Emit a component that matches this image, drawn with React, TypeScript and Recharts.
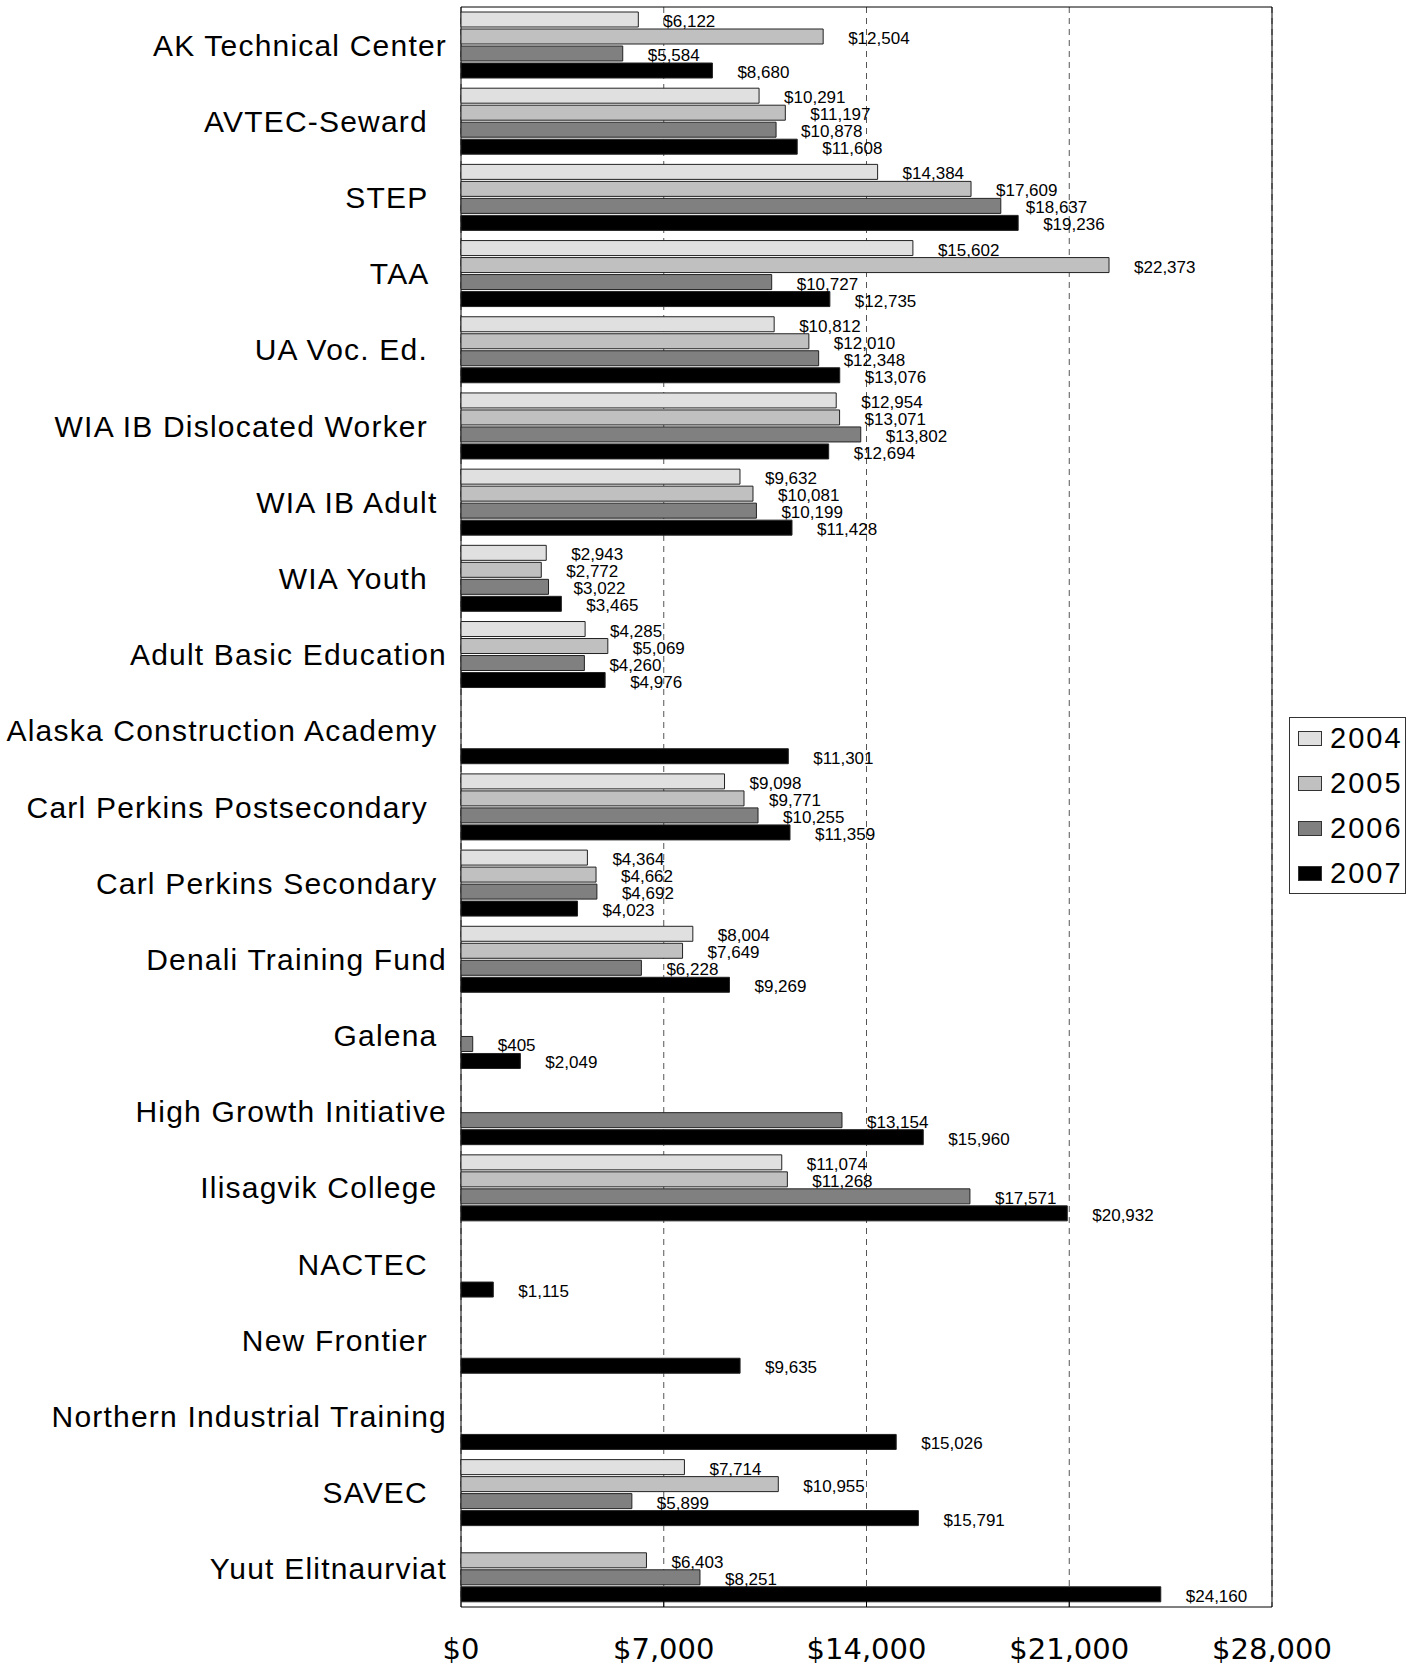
import React from 'react';
import { BarChart, Bar, XAxis, YAxis, CartesianGrid, ReferenceArea, LabelList } from 'recharts';

const categories = [
  'AK Technical Center',
  'AVTEC-Seward  ',
  'STEP  ',
  'TAA  ',
  'UA Voc. Ed.  ',
  'WIA IB Dislocated Worker  ',
  'WIA IB Adult ',
  'WIA Youth  ',
  'Adult Basic Education',
  'Alaska Construction Academy ',
  'Carl Perkins Postsecondary  ',
  'Carl Perkins Secondary ',
  'Denali Training Fund',
  'Galena ',
  'High Growth Initiative',
  'Ilisagvik College ',
  'NACTEC  ',
  'New Frontier  ',
  'Northern Industrial Training',
  'SAVEC  ',
  'Yuut Elitnaurviat',
];

const v2004 = [6122, 10291, 14384, 15602, 10812, 12954, 9632, 2943, 4285, null, 9098, 4364, 8004, null, null, 11074, null, null, null, 7714, null];
const v2005 = [12504, 11197, 17609, 22373, 12010, 13071, 10081, 2772, 5069, null, 9771, 4662, 7649, null, null, 11268, null, null, null, 10955, 6403];
const v2006 = [5584, 10878, 18637, 10727, 12348, 13802, 10199, 3022, 4260, null, 10255, 4692, 6228, 405, 13154, 17571, null, null, null, 5899, 8251];
const v2007 = [8680, 11608, 19236, 12735, 13076, 12694, 11428, 3465, 4976, 11301, 11359, 4023, 9269, 2049, 15960, 20932, 1115, 9635, 15026, 15791, 24160];

const seriesNames = ['2004', '2005', '2006', '2007'];
const seriesColors = ['#e0e0e0', '#c0c0c0', '#808080', '#000000'];
const xTicks = [0, 7000, 14000, 21000, 28000];

const seriesValues = [v2004, v2005, v2006, v2007];
const data = categories.map((name, i) => {
  const row: any = { name };
  seriesNames.forEach((s, k) => {
    row['y' + s] = seriesValues[k][i];
  });
  return row;
});

const FONT = "'Liberation Sans', Arial, sans-serif";

const YTick = (props: any) => {
  const { x, y, payload } = props;
  return (
    <text
      x={x}
      y={y}
      textAnchor="end"
      dominantBaseline="central"
      fontFamily={FONT}
      fontSize={30}
      letterSpacing={1.2}
      fill="#000"
      xmlSpace="preserve"
      style={{ whiteSpace: 'pre' }}
    >
      {payload.value}
    </text>
  );
};

const XTick = (props: any) => {
  const { x, y, payload } = props;
  const v = payload.value;
  return (
    <g>
      {v > 0 && v < 28000 && <line x1={x} x2={x} y1={y} y2={y - 7} stroke="#000" strokeWidth={1} />}
      <text
        x={x}
        y={y + 42}
        textAnchor="middle"
        dominantBaseline="central"
        fontFamily="'DejaVu Sans', sans-serif"
        fontSize={29}
        fill="#000"
      >
        {'$' + Number(v).toLocaleString('en-US')}
      </text>
    </g>
  );
};

const ValueLabel = (props: any) => {
  const { x, y, width, height, value } = props;
  if (value === null || value === undefined) return null;
  return (
    <text
      x={Number(x) + Number(width) + 25}
      y={Number(y) + Number(height) / 2 + 2}
      dominantBaseline="central"
      fontFamily={FONT}
      fontSize={17}
      fill="#000"
    >
      {'$' + Number(value).toLocaleString('en-US')}
    </text>
  );
};

export default function App() {
  return (
    <div style={{ position: 'absolute', left: 0, top: 0, width: 1419, height: 1665, background: '#fff' }}>
      <BarChart
        width={1419}
        height={1665}
        data={data}
        layout="vertical"
        margin={{ top: 7, right: 147, bottom: 0, left: 0 }}
        barCategoryGap={5}
        barGap={2}
      >
        <CartesianGrid horizontal={false} vertical={true} stroke="#555" strokeDasharray="6 5" />
        <XAxis
          type="number"
          domain={[0, 28000]}
          ticks={xTicks}
          interval={0}
          axisLine={false}
          tickLine={false}
          tickSize={0}
          tickMargin={0}
          height={58}
          tick={<XTick />}
        />
        <YAxis
          type="category"
          dataKey="name"
          width={461}
          axisLine={false}
          tickLine={false}
          tickSize={0}
          tickMargin={14}
          interval={0}
          tick={<YTick />}
        />
        {seriesNames.map((s, k) => (
          <Bar
            key={s}
            dataKey={'y' + s}
            name={s}
            fill={seriesColors[k]}
            stroke="#222"
            strokeWidth={1}
            isAnimationActive={false}
          >
            <LabelList dataKey={'y' + s} content={<ValueLabel />} />
          </Bar>
        ))}
        <ReferenceArea x1={0} x2={28000} fill="none" fillOpacity={0} stroke="#000" strokeWidth={1} />
      </BarChart>
      <div
        style={{
          position: 'absolute',
          left: 1289,
          top: 717,
          width: 117,
          height: 177,
          border: '1px solid #333',
          boxSizing: 'border-box',
          background: '#fff',
        }}
      >
        {seriesNames.map((s, i) => (
          <React.Fragment key={s}>
            <div
              style={{
                position: 'absolute',
                left: 8,
                top: 20 + i * 45 - 7.5,
                width: 24,
                height: 15,
                background: seriesColors[i],
                border: '1px solid #333',
                boxSizing: 'border-box',
              }}
            />
            <div
              style={{
                position: 'absolute',
                left: 40,
                top: 20 + i * 45 - 14,
                fontFamily: FONT,
                fontSize: 29,
                lineHeight: '29px',
                letterSpacing: 2,
                color: '#000',
                whiteSpace: 'nowrap',
              }}
            >
              {s}
            </div>
          </React.Fragment>
        ))}
      </div>
    </div>
  );
}
